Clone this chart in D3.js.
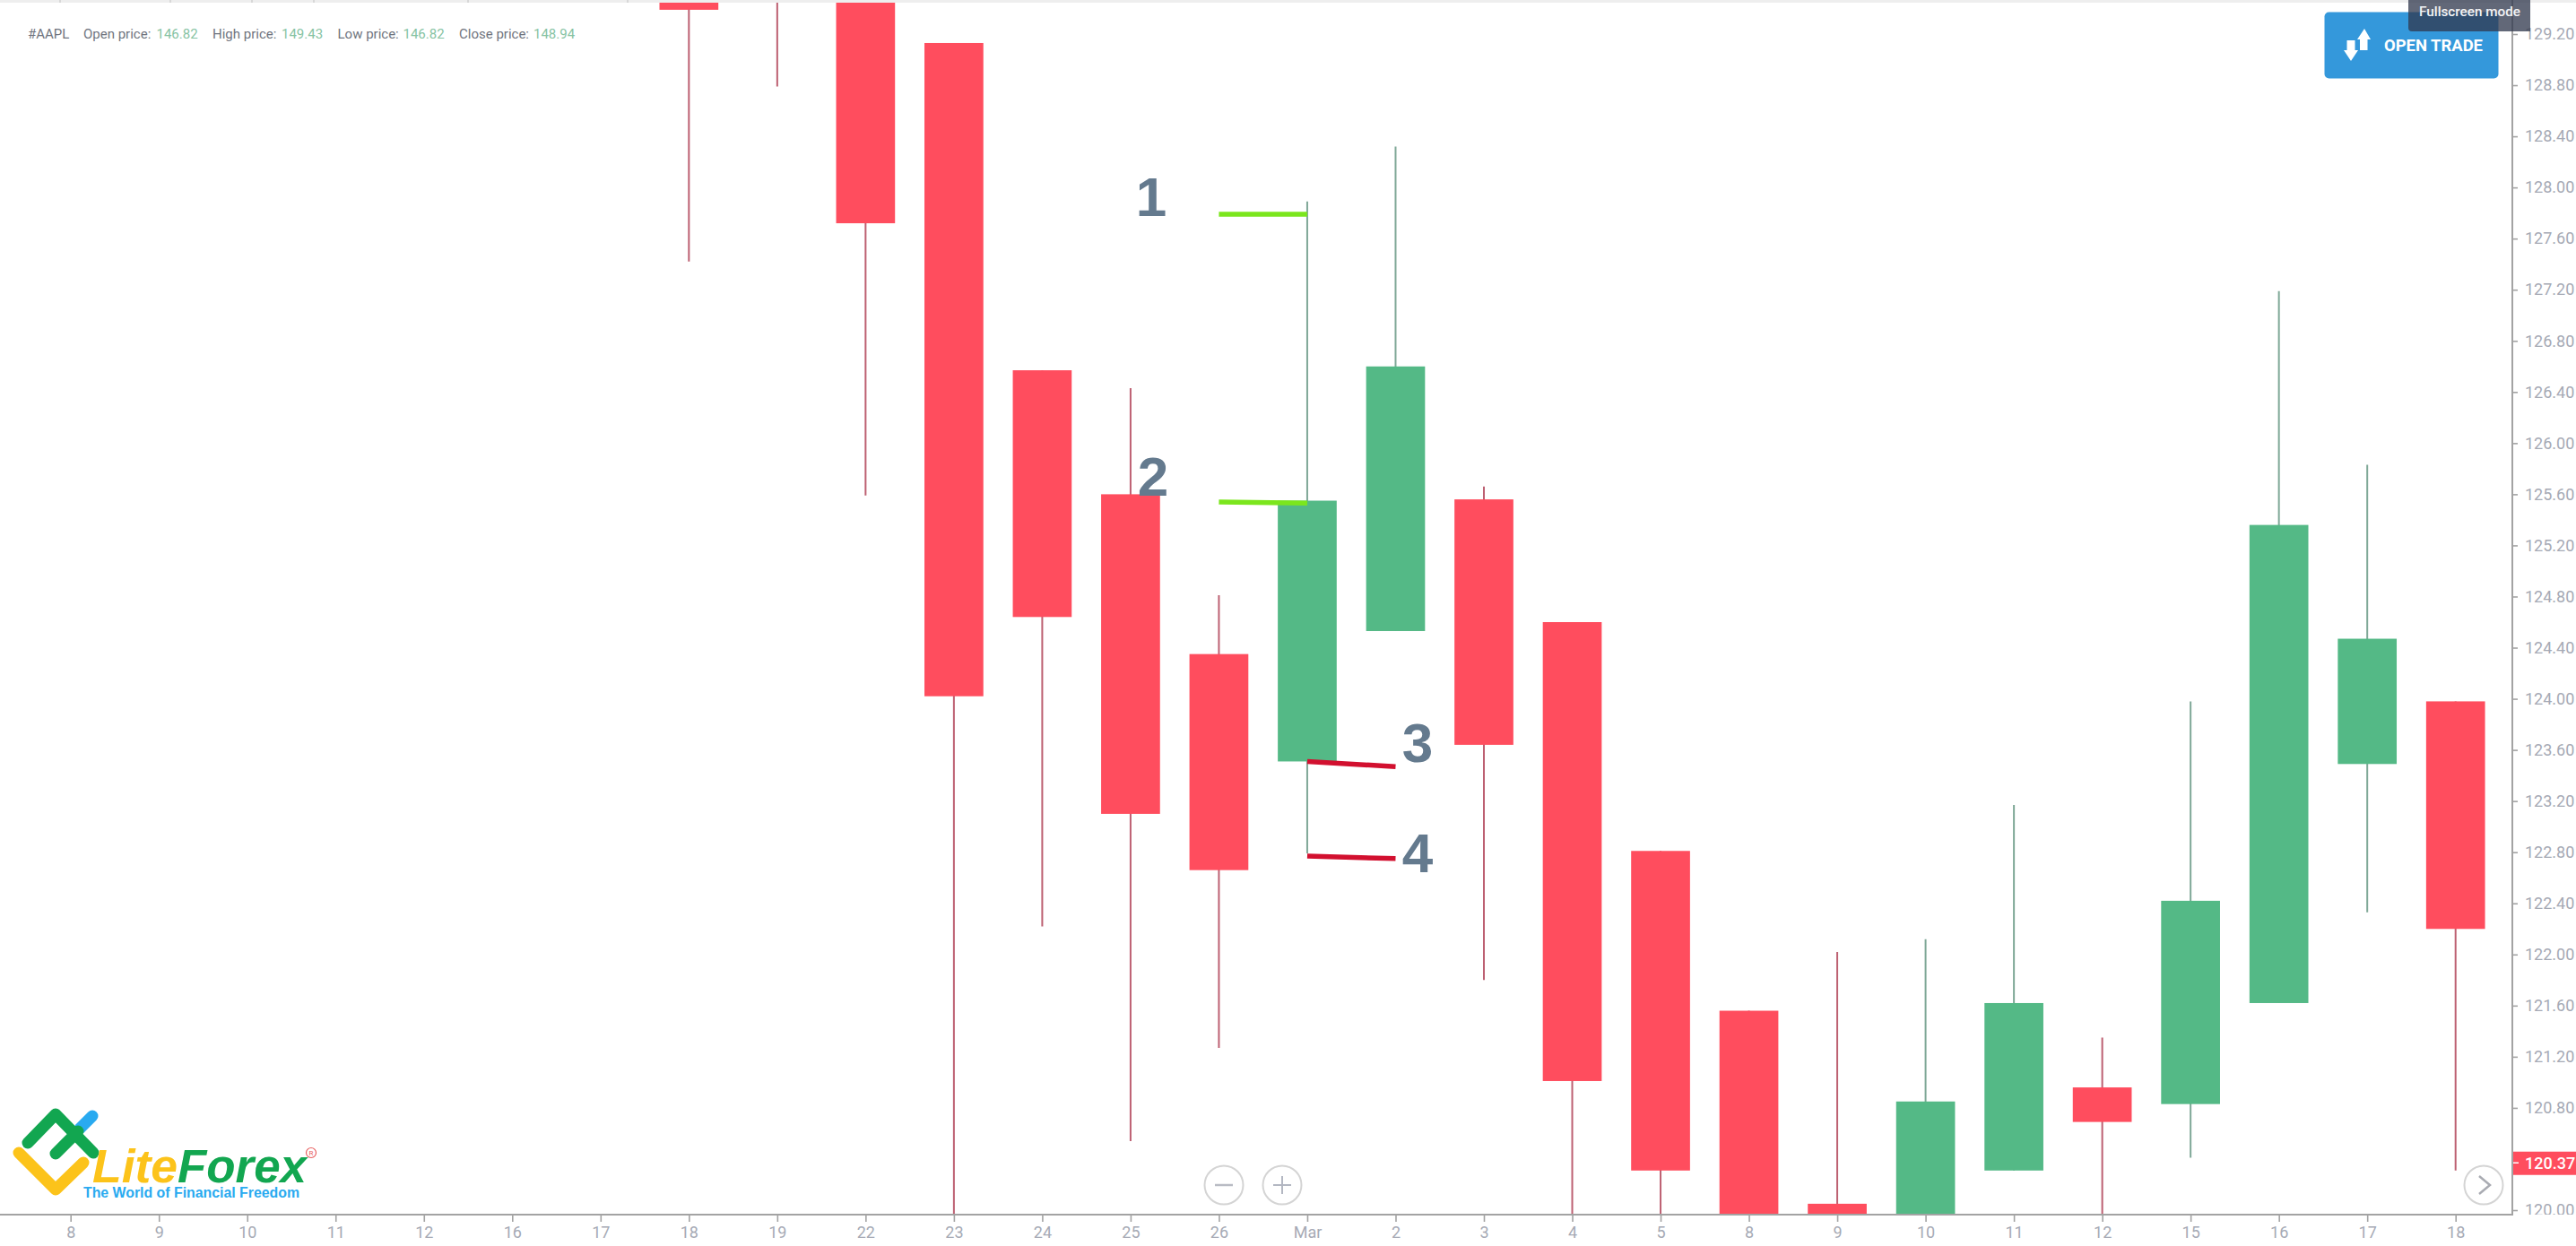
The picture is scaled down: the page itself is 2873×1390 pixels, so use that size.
<!DOCTYPE html>
<html>
<head>
<meta charset="utf-8">
<script src="https://cdn.jsdelivr.net/npm/d3@7/dist/d3.min.js"></script>
<style>
html,body{margin:0;padding:0;background:#fff;overflow:hidden}
svg{display:block}
text{font-family:Roboto,sans-serif}
</style>
</head>
<body>
<svg id="c" width="2873" height="1390"></svg>
<script>
// ---- data ----
const xLabels = ["8","9","10","11","12","16","17","18","19","22","23","24","25","26","Mar","2","3","4","5","8","9","10","11","12","15","16","17","18"];
const opens  = [null,null,null,null,null,null,null,130.20,130.40,130.60,129.13,126.57,125.60,124.35,123.51,124.53,125.56,124.60,122.81,121.56,120.05,119.40,120.31,120.96,120.83,121.62,123.49,123.98];
const highs  = [null,null,null,null,null,null,null,130.50,130.60,130.80,129.13,126.57,126.43,124.81,127.89,128.32,125.66,124.60,122.81,121.56,122.02,122.12,123.17,121.35,123.98,127.19,125.83,123.98];
const lows   = [null,null,null,null,null,null,null,127.42,128.79,125.59,119.20,122.22,120.54,121.27,122.79,124.53,121.80,119.50,119.80,119.40,119.20,119.30,120.31,119.70,120.41,121.62,122.33,120.31];
const closes = [null,null,null,null,null,null,null,129.39,129.80,127.72,124.02,124.64,123.10,122.66,125.55,126.60,123.64,121.01,120.31,119.60,119.30,120.85,121.62,120.69,122.42,125.36,124.47,122.20];
const yTicks = [120.0,120.4,120.8,121.2,121.6,122.0,122.4,122.8,123.2,123.6,124.0,124.4,124.8,125.2,125.6,126.0,126.4,126.8,127.2,127.6,128.0,128.4,128.8,129.2];
const lastPrice = 120.37;
const headerItems = [
  ["#AAPL", "", 31, 0],
  ["Open price:", "146.82", 93, 174.5],
  ["High price:", "149.43", 237, 314],
  ["Low price:", "146.82", 376.5, 449.5],
  ["Close price:", "148.94", 512, 595]
];
const markerNames = ["1","2","3","4"];
const markerFrom  = [13,13,14,14];          // category index where each marker line starts
const markerTo    = [14,14,15,15];          // category index where it ends
const markerP0    = [127.79,125.54,123.51,122.77];
const markerP1    = [127.79,125.53,123.47,122.75];
const markerColor = ["#7be61d","#7be61d","#d2102f","#d2102f"];

// ---- layout ----
const W = 2873, H = 1390, plotRight = 2802, plotBottom = 1355, plotTop = 3;
const GREEN = "#54b986", RED = "#ff4d5e", GWICK = "#7fa897", RWICK = "#bd6072";
const AX = "#a3a3a3", TXT = "#a6aab5";

const svg = d3.select("#c");
const idx = d3.range(xLabels.length);
const x = d3.scalePoint().domain(idx).range([78.7, 2738.7]);
const y = d3.scaleLinear().domain([120, 129.2]).range([1350, 38]);
const bodyW = x.step() * 2 / 3;

svg.append("defs").append("clipPath").attr("id","plot")
  .append("rect").attr("x",0).attr("y",plotTop).attr("width",plotRight).attr("height",plotBottom-plotTop);
svg.select("defs").append("clipPath").attr("id","yclip")
  .append("rect").attr("x",plotRight).attr("y",0).attr("width",W-plotRight).attr("height",plotBottom);

// cropped toolbar strip at the very top
svg.append("rect").attr("x",0).attr("y",0).attr("width",W).attr("height",3).attr("fill","#eeeeee");
svg.append("g").selectAll("rect").data([66,189,280,349,521,699]).join("rect")
  .attr("x",d=>d).attr("y",0).attr("width",2).attr("height",3).attr("fill","#d8d8d8");

// candles
const candles = idx.filter(i => opens[i] !== null);
const plot = svg.append("g").attr("clip-path","url(#plot)");
plot.selectAll("line.wick").data(candles).join("line").attr("class","wick")
  .attr("x1",i=>x(i)).attr("x2",i=>x(i))
  .attr("y1",i=>y(highs[i])).attr("y2",i=>y(lows[i]))
  .attr("stroke",i=>closes[i]>=opens[i]?GWICK:RWICK).attr("stroke-width",2);
plot.selectAll("rect.body").data(candles).join("rect").attr("class","body")
  .attr("x",i=>x(i)-bodyW/2).attr("width",bodyW)
  .attr("y",i=>y(Math.max(opens[i],closes[i])))
  .attr("height",i=>Math.abs(y(opens[i])-y(closes[i])))
  .attr("fill",i=>closes[i]>=opens[i]?GREEN:RED);

// axes
const xAxis = d3.axisBottom(x).tickSize(8).tickPadding(5).tickFormat(i=>xLabels[i]);
const gx = svg.append("g").attr("transform",`translate(0,${plotBottom})`).call(xAxis);
gx.select(".domain").remove();
gx.selectAll("line").attr("stroke",AX).attr("stroke-width",1.6);
gx.selectAll("text").attr("fill",TXT).attr("font-size",18).attr("font-family","Roboto,sans-serif");

const yAxis = d3.axisRight(y).tickValues(yTicks).tickSize(6).tickPadding(8).tickFormat(d3.format(".2f"));
const gy = svg.append("g").attr("clip-path","url(#yclip)").append("g")
  .attr("transform",`translate(${plotRight},0)`).call(yAxis);
gy.select(".domain").remove();
gy.selectAll("line").attr("stroke",AX).attr("stroke-width",1.6);
gy.selectAll("text").attr("fill",TXT).attr("font-size",18).attr("font-family","Roboto,sans-serif");

svg.append("line").attr("x1",0).attr("x2",plotRight+1).attr("y1",plotBottom).attr("y2",plotBottom).attr("stroke",AX).attr("stroke-width",2);
svg.append("line").attr("x1",plotRight).attr("x2",plotRight).attr("y1",0).attr("y2",plotBottom+1).attr("stroke",AX).attr("stroke-width",2);

// last price tag
svg.append("rect").attr("x",plotRight+1).attr("y",y(lastPrice)-12.5).attr("width",W-plotRight-1).attr("height",26).attr("fill",RED);
svg.append("line").attr("x1",plotRight+1).attr("x2",plotRight+7).attr("y1",y(lastPrice)).attr("y2",y(lastPrice)).attr("stroke","#fff").attr("stroke-width",1.5);
svg.append("text").attr("x",2816).attr("y",y(lastPrice)+6.5).attr("fill","#fff").attr("font-size",18).attr("font-weight",500).text(d3.format(".2f")(lastPrice));

// header
const hdr = svg.append("g").attr("font-size",15);
headerItems.forEach(([label,value,lx,vx])=>{
  hdr.append("text").attr("x",lx).attr("y",43).attr("fill","#6f747e").text(label);
  if(value) hdr.append("text").attr("x",vx).attr("y",43).attr("fill","#86c3a3").text(value);
});

// marker lines and numerals
markerNames.forEach((n,i)=>{
  svg.append("line").attr("x1",x(markerFrom[i])).attr("x2",x(markerTo[i]))
    .attr("y1",y(markerP0[i])).attr("y2",y(markerP1[i]))
    .attr("stroke",markerColor[i]).attr("stroke-width",5.5);
});
const nums = [[1284,241],[1286,553],[1581,850],[1581,973]];
svg.append("g").selectAll("text").data(markerNames).join("text")
  .attr("x",(d,i)=>nums[i][0]).attr("y",(d,i)=>nums[i][1])
  .attr("text-anchor","middle").attr("font-size",62).attr("font-weight",700)
  .style("font-family","'Liberation Sans',Arial,sans-serif").attr("fill","#647a8e").text(d=>d);

// open-trade button
svg.append("rect").attr("x",2592.5).attr("y",13.5).attr("width",194).attr("height",74).attr("rx",5).attr("fill","#3498db");
svg.append("path").attr("fill","#fff")
  .attr("d","M2637 32 L2644 44 L2640.5 44 L2640.5 56 L2632 56 L2632 44 L2629 44 Z");
svg.append("path").attr("fill","#fff")
  .attr("d","M2622 68 L2614 56 L2617.5 56 L2617.5 45 L2626.5 45 L2626.5 56 L2630 56 Z");
svg.append("text").attr("x",2659).attr("y",57).attr("fill","#fff").attr("font-size",19).attr("font-weight",700)
  .attr("textLength",110).attr("lengthAdjust","spacingAndGlyphs").text("OPEN TRADE");

// tooltip
svg.append("path").attr("d","M2686 0 H2822 V35 H2690 Q2686 35 2686 31 Z").attr("fill","rgba(48,56,78,0.76)");
svg.append("text").attr("x",2698).attr("y",18).attr("fill","#f2f3f5").attr("font-size",14).attr("font-weight",500)
  .attr("textLength",113).attr("lengthAdjust","spacingAndGlyphs").text("Fullscreen mode");

// round controls
const ctl = svg.append("g");
[[1365,1322],[1430,1322],[2770,1322]].forEach(([cx,cy])=>{
  ctl.append("circle").attr("cx",cx).attr("cy",cy).attr("r",21.5).attr("fill","#fff").attr("fill-opacity",0.6).attr("stroke","#d4d4d4").attr("stroke-width",2);
});
ctl.append("path").attr("d","M1355 1322 H1375").attr("stroke","#b9bcc4").attr("stroke-width",2.5).attr("fill","none");
ctl.append("path").attr("d","M1420 1322 H1440 M1430 1312 V1332").attr("stroke","#b3b7c2").attr("stroke-width",2).attr("fill","none");
ctl.append("path").attr("d","M2765 1312 L2777 1322 L2765 1332").attr("stroke","#a9abb2").attr("stroke-width",2.5).attr("fill","none");

// logo
const logo = svg.append("g").attr("fill","none").attr("stroke-linecap","round").attr("stroke-linejoin","round").attr("stroke-width",13);
logo.append("path").attr("d","M89 1259 L103 1245").attr("stroke","#29aaf0");
logo.append("path").attr("d","M21 1286 L62 1327 L93 1297").attr("stroke","#fcc31a");
logo.append("path").attr("d","M31 1275 L62 1243 L104 1286").attr("stroke","#12a650");
logo.append("path").attr("d","M62 1287 L87 1262").attr("stroke","#12a650");
const lf = svg.append("g").attr("font-weight",700).attr("font-style","italic").attr("font-size",51);
lf.append("text").attr("x",103).attr("y",1319).attr("fill","#fcc31a").attr("textLength",95).attr("lengthAdjust","spacingAndGlyphs").style("font-family","'Liberation Sans',Arial,sans-serif").text("Lite");
lf.append("text").attr("x",198).attr("y",1319).attr("fill","#12a650").attr("textLength",144).attr("lengthAdjust","spacingAndGlyphs").style("font-family","'Liberation Sans',Arial,sans-serif").text("Forex");
svg.append("circle").attr("cx",347).attr("cy",1286).attr("r",5.5).attr("fill","none").attr("stroke","#e86060").attr("stroke-width",1.2);
svg.append("text").attr("x",347).attr("y",1289).attr("text-anchor","middle").attr("font-size",8).attr("fill","#e86060").text("R");
svg.append("text").attr("x",93).attr("y",1336).attr("fill","#29aaf0").attr("font-size",16).attr("font-weight",700)
  .style("font-family","'Liberation Sans',Arial,sans-serif")
  .attr("textLength",241).attr("lengthAdjust","spacingAndGlyphs").text("The World of Financial Freedom");
</script>
</body>
</html>
